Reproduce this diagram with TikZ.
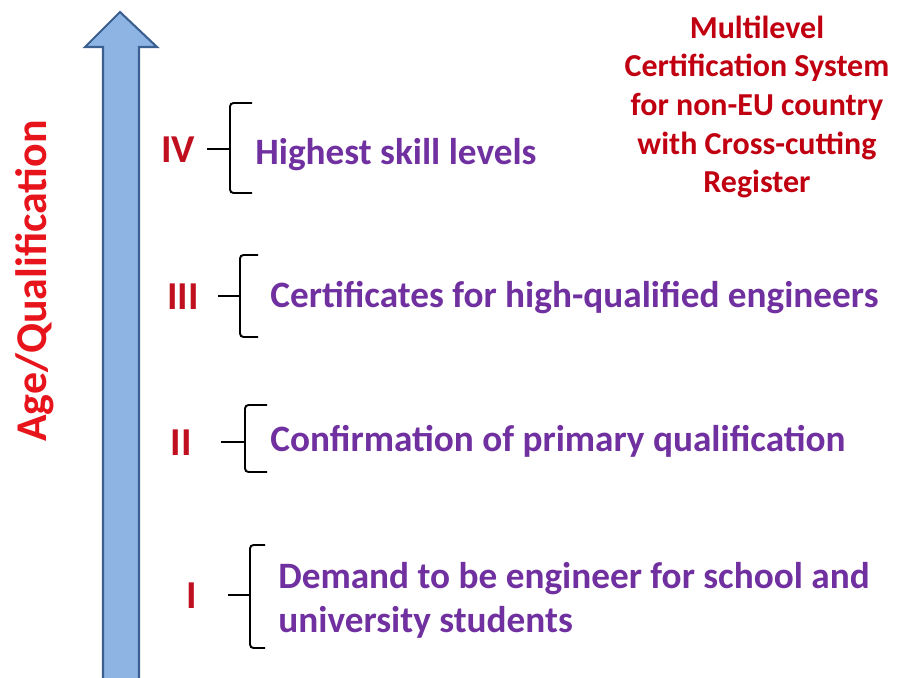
\documentclass[tikz,border=0pt]{standalone}
\usepackage{fontspec}
\setmainfont{Carlito}
\definecolor{arrowFill}{RGB}{141,180,226}
\definecolor{arrowLine}{RGB}{60,95,145}
\definecolor{axisRed}{RGB}{232,20,28}
\definecolor{levelRed}{RGB}{192,16,32}
\definecolor{levelPurple}{RGB}{112,48,160}
\definecolor{titleRed}{RGB}{192,0,16}
\begin{document}
\begin{tikzpicture}
[x=0.02cm,y=-0.02cm,
  arrowDecorate/.style={draw=arrowLine,fill=arrowFill,line width=1.2pt,line join=miter},%
  braceDecorate/.style={draw=black,line width=1.1pt,rounded corners=2pt},%
  numberDecorate/.style={text=levelRed,font=\fontsize{22.5}{26}\selectfont\bfseries,inner sep=0pt},%
  textDecorate/.style={text=levelPurple,font=\fontsize{21.2}{25}\selectfont\bfseries,inner sep=0pt,anchor=west,align=left}]
\useasboundingbox (0,0) rectangle (897,677);
%% vertical axis arrow
\draw[arrowDecorate] (103,690) -- (103,47) -- (85,47) -- (120,12) -- (157,47)
  -- (139,47) -- (139,690);
\node (axis) at (35,281) [rotate=90,text=axisRed,inner sep=0pt,
  font=\fontsize{25}{29}\selectfont\bfseries] {Age/Qualification};
%% title
\node (title) at (757,107) [text=titleRed,align=center,inner sep=0pt,
  font=\fontsize{18.2}{22}\selectfont\bfseries] {Multilevel\\Certification System\\for non-EU country\\with Cross-cutting\\Register};
%% levels with braces
\foreach \levelname/\num/\nx/\ny/\xv/\top/\bot/\xt/\my/\xr/\tx/\ty/\levtext in {
  four/IV/178/150/230/103/193/207/149/252/255/155/{Highest skill levels},
  three/III/183/297/240/255/337/218/296/258/270/298/{Certificates for high-qualified engineers},
  two/II/181/443/245/405/472/221/442/267/270/441/{Confirmation of primary qualification},
  one/I/192/596/250/545/648/228/595/265/278/600/{Demand to be engineer for school and\\university students}}
{
  \node (\levelname) at (\nx,\ny) [numberDecorate] {\num};
  \draw[braceDecorate] (\xr,\top) -- (\xv,\top) -- (\xv,\bot) -- (\xr,\bot);
  \draw[braceDecorate] (\xt,\my) -- (\xv,\my);
  \node (\levelname text) at (\tx,\ty) [textDecorate] {\levtext};
}
\end{tikzpicture}
\end{document}
